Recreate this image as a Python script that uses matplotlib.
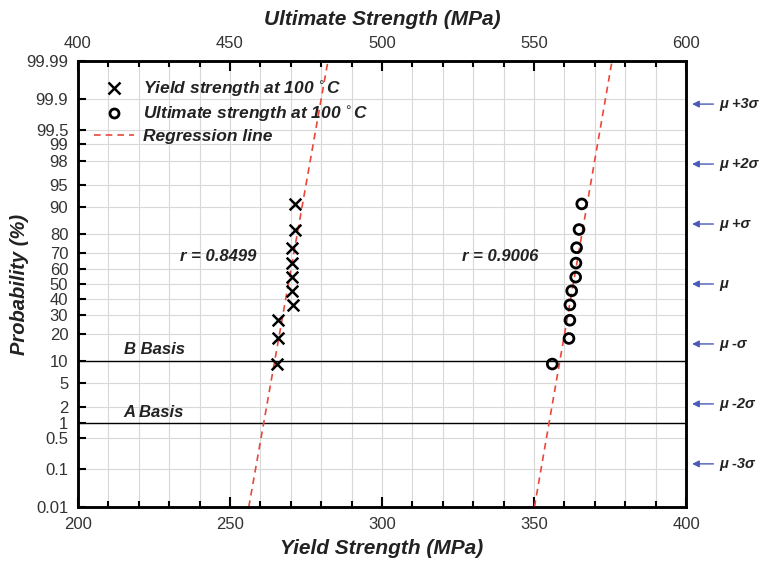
from statistics import NormalDist

import matplotlib.pyplot as plt
import numpy as np
from matplotlib.ticker import FixedLocator, MultipleLocator


# Probit plot of yield / ultimate strength at 100 C
yield_strength = [265.6, 265.9, 265.9, 270.6, 270.3, 270.3, 270.3, 270.3, 271.4, 271.4]
ultimate_strength = [556.0, 561.5, 561.8, 561.8, 562.4, 563.7, 563.8, 564.0, 564.8, 565.7]
rank_prob = [1 / 11, 2 / 11, 3 / 11, 4 / 11, 5 / 11, 6 / 11, 7 / 11, 8 / 11, 9 / 11, 10 / 11]

# regression fit: (mean, std) in MPa
yield_fit = (269.2, 3.5)
ultimate_fit = (562.9, 3.43)
yield_r = "r = 0.8499"
ultimate_r = "r = 0.9006"

prob_ticks = [0.01, 0.1, 0.5, 1, 2, 5, 10, 20, 30, 40, 50, 60, 70, 80, 90, 95, 98, 99, 99.5, 99.9, 99.99]
prob_labels = ["0.01", "0.1", "0.5", "1", "2", "5", "10", "20", "30", "40", "50",
               "60", "70", "80", "90", "95", "98", "99", "99.5", "99.9", "99.99"]
sigma_levels = [3, 2, 1, 0, -1, -2, -3]
sigma_labels = ["μ +3σ", "μ +2σ", "μ +σ", "μ", "μ -σ", "μ -2σ", "μ -3σ"]
basis_levels = [10, 1]
basis_labels = ["B Basis", "A Basis"]

nd = NormalDist()


def z(p_percent):
    return nd.inv_cdf(p_percent / 100.0)


plt.rcParams["font.family"] = ["Liberation Sans", "DejaVu Sans"]
TEXT = "#333333"
BI = dict(fontweight="bold", fontstyle="italic")

fig = plt.figure(figsize=(7.66, 5.62), dpi=100)
ax = fig.add_axes([0.1018, 0.0979, 0.7938, 0.7936])
ax2 = ax.twiny()

zmin, zmax = z(0.01), z(99.99)
ax.set_ylim(zmin, zmax)
ax.set_xlim(200, 400)
ax2.set_xlim(400, 600)

# grid
for p in prob_ticks:
    ax.axhline(z(p), color="#d8d8d8", lw=0.8, zorder=0)
for x in range(210, 400, 10):
    ax.axvline(x, color="#d8d8d8", lw=0.8, zorder=0)

# basis lines
for level, label in zip(basis_levels, basis_labels):
    ax.axhline(z(level), color="black", lw=1.0, zorder=1)
    ax.text(215, z(level) + 0.06, label, fontsize=12, color="#222222", va="bottom", **BI)

# regression lines
zz = np.array([zmin, zmax])
ax.plot(yield_fit[0] + yield_fit[1] * zz, zz, ls=(0, (4, 3)), color="#e8473a", lw=1.2, zorder=2)
ax2.plot(ultimate_fit[0] + ultimate_fit[1] * zz, zz, ls=(0, (4, 3)), color="#e8473a", lw=1.2, zorder=2)

zp = [nd.inv_cdf(p) for p in rank_prob]
ax.scatter(yield_strength, zp, marker="x", s=70, color="black", linewidths=1.8, zorder=3)
ax2.scatter(ultimate_strength, zp, marker="o", s=50, facecolors="none", edgecolors="black",
            linewidths=2.0, zorder=3)

ax.text(246, 0.45, yield_r, fontsize=12, color="#222222", ha="center", va="center", **BI)
ax.text(339, 0.45, ultimate_r, fontsize=12, color="#222222", ha="center", va="center", **BI)

# legend
h1 = ax.plot([], [], "x", color="black", ms=8, mew=1.8)[0]
h2 = ax.plot([], [], "o", color="black", mfc="none", ms=6.5, mew=2.0)[0]
h3 = ax.plot([], [], ls=(0, (4, 3)), color="#e8473a", lw=1.2)[0]
leg = ax.legend([h1, h2, h3],
                ["Yield strength at 100 $^{\\circ}$C", "Ultimate strength at 100 $^{\\circ}$C",
                 "Regression line"],
                loc="upper left", bbox_to_anchor=(0.0, 0.995), frameon=False,
                prop=dict(size=12.5, weight="bold", style="italic"),
                handlelength=2.3, handletextpad=0.55, labelspacing=0.3)
for t in leg.get_texts():
    t.set_color("#222222")

# y axis: probability
ax.yaxis.set_major_locator(FixedLocator([z(p) for p in prob_ticks]))
ax.set_yticklabels(prob_labels)
ax.tick_params(axis="y", direction="in", length=6, width=1.5, labelsize=12, labelcolor=TEXT, pad=7)
ax.set_ylabel("Probability (%)", fontsize=14.5, color="#222222", labelpad=-2, **BI)

# bottom axis
ax.xaxis.set_major_locator(MultipleLocator(50))
ax.xaxis.set_minor_locator(MultipleLocator(10))
ax.tick_params(axis="x", which="major", direction="in", length=7, width=1.5, labelsize=12,
               labelcolor=TEXT, pad=7)
ax.tick_params(axis="x", which="minor", direction="in", length=4, width=1.5)
ax.set_xlabel("Yield Strength (MPa)", fontsize=15, color="#222222", labelpad=5, **BI)

# top axis
ax2.xaxis.set_major_locator(MultipleLocator(50))
ax2.xaxis.set_minor_locator(MultipleLocator(10))
ax2.tick_params(axis="x", which="major", direction="in", length=7, width=1.5, labelsize=12,
                labelcolor=TEXT, pad=7)
ax2.tick_params(axis="x", which="minor", direction="in", length=4, width=1.5)
ax2.set_xlabel("Ultimate Strength (MPa)", fontsize=15, color="#222222", labelpad=8, **BI)

for a in (ax, ax2):
    for s in a.spines.values():
        s.set_linewidth(1.8)

# sigma markers on the right
trans = ax.get_yaxis_transform()
for k, label in zip(sigma_levels, sigma_labels):
    ax.annotate("", xy=(1.01, k), xytext=(1.045, k), xycoords=trans, textcoords=trans,
                arrowprops=dict(arrowstyle="-|>", color="#4a5ab8", lw=1.0,
                                mutation_scale=10, shrinkA=0, shrinkB=0))
    ax.text(1.055, k, label, transform=trans, fontsize=10.5, color="#222222",
            ha="left", va="center", **BI)

fig.savefig("out.png", dpi=100)
